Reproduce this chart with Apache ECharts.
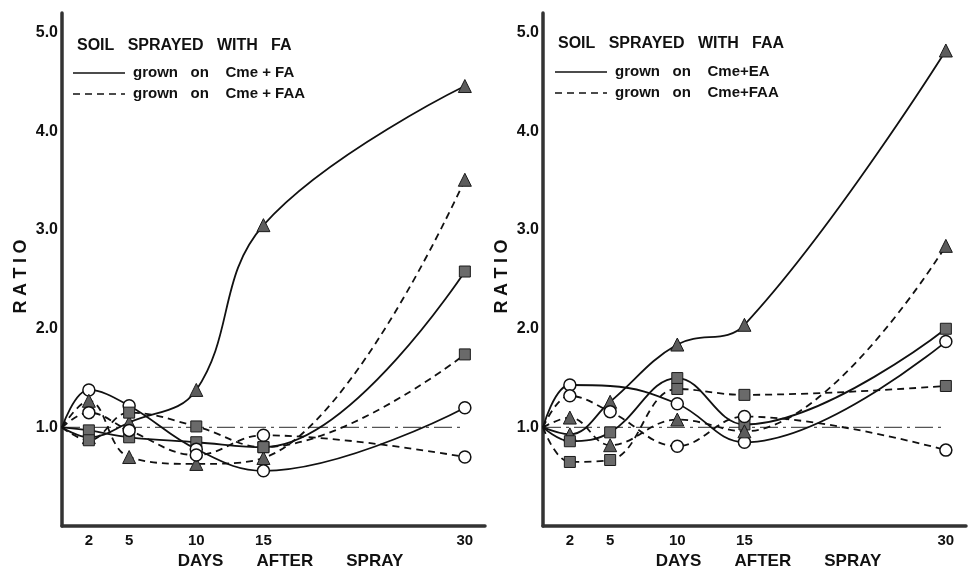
<!DOCTYPE html>
<html>
<head>
<meta charset="utf-8">
<script src="https://cdn.jsdelivr.net/npm/echarts@6/dist/echarts.min.js"></script>
<style>
  html, body { margin: 0; padding: 0; background: #fff; }
  #main { width: 976px; height: 575px; }
</style>
</head>
<body>
<div id="main"></div>
<script>
// days after spray (day 0 = start, ratio 1.0)
var days = [0, 2, 5, 10, 15, 30];
var dayLabels = [2, 5, 10, 15, 30];
var ratioLabels = [1, 2, 3, 4, 5];
var controlDays = [0, 30];
var controlRatio = [1.0, 1.0];

// left: soil sprayed with FA  (solid = grown on Cme + FA, dashed = grown on Cme + FAA)
var faSolidTri = [1.0, 0.90, 1.05, 1.38, 3.05, 4.46];
var faSolidSq = [1.0, 0.97, 0.90, 0.85, 0.80, 2.58];
var faSolidCirc = [1.0, 1.38, 1.22, 0.78, 0.56, 1.20];
var faDashTri = [1.0, 1.27, 0.70, 0.63, 0.69, 3.51];
var faDashSq = [1.0, 0.87, 1.15, 1.01, 0.80, 1.74];
var faDashCirc = [1.0, 1.15, 0.97, 0.72, 0.92, 0.70];

// right: soil sprayed with FAA  (solid = grown on Cme+EA, dashed = grown on Cme+FAA)
var faaSolidTri = [1.0, 0.93, 1.26, 1.84, 2.04, 4.82];
var faaSolidSq = [1.0, 0.86, 0.95, 1.50, 1.03, 2.00];
var faaSolidCirc = [1.0, 1.43, 1.42, 1.24, 0.85, 1.87];
var faaDashTri = [1.0, 1.10, 0.82, 1.08, 0.96, 2.84];
var faaDashSq = [1.0, 0.65, 0.67, 1.39, 1.33, 1.42];
var faaDashCirc = [1.0, 1.32, 1.16, 0.81, 1.11, 0.77];

// points drawn without a marker in the original (besides day 0)
var faaSolidCircNoMark = [5];

var FONT = 'Liberation Sans';
var dashed = [7, 5];

function pairs(xs, ys, noMark) {
    return xs.map(function (d, i) {
        var p = { value: [d, ys[i]] };
        if (d === 0 || (noMark && noMark.indexOf(d) >= 0)) p.symbol = 'none';
        return p;
    });
}

var markers = {
    tri: { symbol: 'triangle', symbolSize: 13, itemStyle: { color: '#5c5c5c', borderColor: '#1a1a1a', borderWidth: 1 } },
    sq: { symbol: 'rect', symbolSize: 11, itemStyle: { color: '#6a6a6a', borderColor: '#1a1a1a', borderWidth: 1 } },
    circ: { symbol: 'circle', symbolSize: 12, itemStyle: { color: '#ffffff', borderColor: '#111', borderWidth: 1.5 } }
};

function curve(name, panel, vals, mark, dash, noMark) {
    var m = markers[mark];
    return {
        name: name,
        type: 'line',
        xAxisIndex: panel,
        yAxisIndex: panel,
        smooth: 0.4,
        symbol: m.symbol,
        symbolSize: m.symbolSize,
        showSymbol: true,
        itemStyle: m.itemStyle,
        lineStyle: { color: '#111', width: 1.8, type: dash ? dashed : 'solid' },
        z: 3,
        data: pairs(days, vals, noMark)
    };
}

function control(panel) {
    return {
        name: 'control',
        type: 'line',
        xAxisIndex: panel,
        yAxisIndex: panel,
        symbol: 'none',
        lineStyle: { color: '#555', width: 1.2, type: [18, 5, 3, 5] },
        z: 2,
        data: pairs(controlDays, controlRatio)
    };
}

function xAx(grid, namePad) {
    return {
        type: 'value', gridIndex: grid, min: 0, max: 31.5,
        axisLine: { lineStyle: { color: '#333', width: 3.5 } },
        axisTick: { show: false },
        splitLine: { show: false },
        axisLabel: { customValues: dayLabels, color: '#111', fontFamily: FONT, fontWeight: 'bold', fontSize: 15, margin: 7 },
        name: 'DAYS       AFTER       SPRAY',
        nameLocation: 'middle',
        nameGap: 24,
        nameTextStyle: { color: '#111', fontFamily: FONT, fontWeight: 'bold', fontSize: 17, padding: [0, 0, 0, namePad] }
    };
}

function yAx(grid) {
    return {
        type: 'value', gridIndex: grid, min: 0, max: 5.2,
        axisLine: { show: true, lineStyle: { color: '#333', width: 3.5 } },
        axisTick: { show: false },
        splitLine: { show: false },
        axisLabel: {
            customValues: ratioLabels, color: '#111', fontFamily: FONT, fontWeight: 'bold', fontSize: 16, margin: 4,
            formatter: function (v) { return v.toFixed(1); }
        },
        name: 'R\u2005A\u2005T\u2005I\u2005O',
        nameLocation: 'middle',
        nameRotate: 90,
        nameGap: 32,
        nameTextStyle: { color: '#111', fontFamily: FONT, fontWeight: 'bold', fontSize: 18, padding: [0, 14, 0, 0] }
    };
}

function legendLines(x, y) {
    return [
        { type: 'line', shape: { x1: x, y1: y, x2: x + 52, y2: y }, style: { stroke: '#111', lineWidth: 1.6 } },
        { type: 'line', shape: { x1: x, y1: y + 21, x2: x + 52, y2: y + 21 }, style: { stroke: '#111', lineWidth: 1.6, lineDash: dashed } }
    ];
}

function legendText(x, y, txt) {
    return { type: 'text', left: x, top: y, style: { text: txt, fill: '#111', font: 'bold 15px "' + FONT + '"' } };
}

var titleStyle = { color: '#111', fontFamily: FONT, fontWeight: 'bold', fontSize: 16 };

var option = {
    animation: false,
    backgroundColor: '#fff',
    title: [
        { text: 'SOIL   SPRAYED   WITH   FA', left: 77, top: 38, padding: 0, textStyle: titleStyle },
        { text: 'SOIL   SPRAYED   WITH   FAA', left: 558, top: 36, padding: 0, textStyle: titleStyle }
    ],
    grid: [
        { left: 62, top: 13, width: 423, height: 520 },
        { left: 543, top: 13, width: 423, height: 520 }
    ],
    xAxis: [xAx(0, 34), xAx(1, 28)],
    yAxis: [yAx(0), yAx(1)],
    graphic: [].concat(
        legendLines(73, 73),
        legendLines(555, 72),
        [
            legendText(133, 65, 'grown   on    Cme + FA'),
            legendText(133, 86, 'grown   on    Cme + FAA'),
            legendText(615, 64, 'grown   on    Cme+EA'),
            legendText(615, 85, 'grown   on    Cme+FAA')
        ]
    ),
    series: [
        control(0),
        curve('FA solid triangle', 0, faSolidTri, 'tri', false),
        curve('FA solid square', 0, faSolidSq, 'sq', false),
        curve('FA solid circle', 0, faSolidCirc, 'circ', false),
        curve('FA dashed triangle', 0, faDashTri, 'tri', true),
        curve('FA dashed square', 0, faDashSq, 'sq', true),
        curve('FA dashed circle', 0, faDashCirc, 'circ', true),
        control(1),
        curve('FAA solid triangle', 1, faaSolidTri, 'tri', false),
        curve('FAA solid square', 1, faaSolidSq, 'sq', false),
        curve('FAA solid circle', 1, faaSolidCirc, 'circ', false, faaSolidCircNoMark),
        curve('FAA dashed triangle', 1, faaDashTri, 'tri', true),
        curve('FAA dashed square', 1, faaDashSq, 'sq', true),
        curve('FAA dashed circle', 1, faaDashCirc, 'circ', true)
    ]
};

var myChart = echarts.init(document.getElementById('main'));
myChart.setOption(option);
</script>
</body>
</html>
